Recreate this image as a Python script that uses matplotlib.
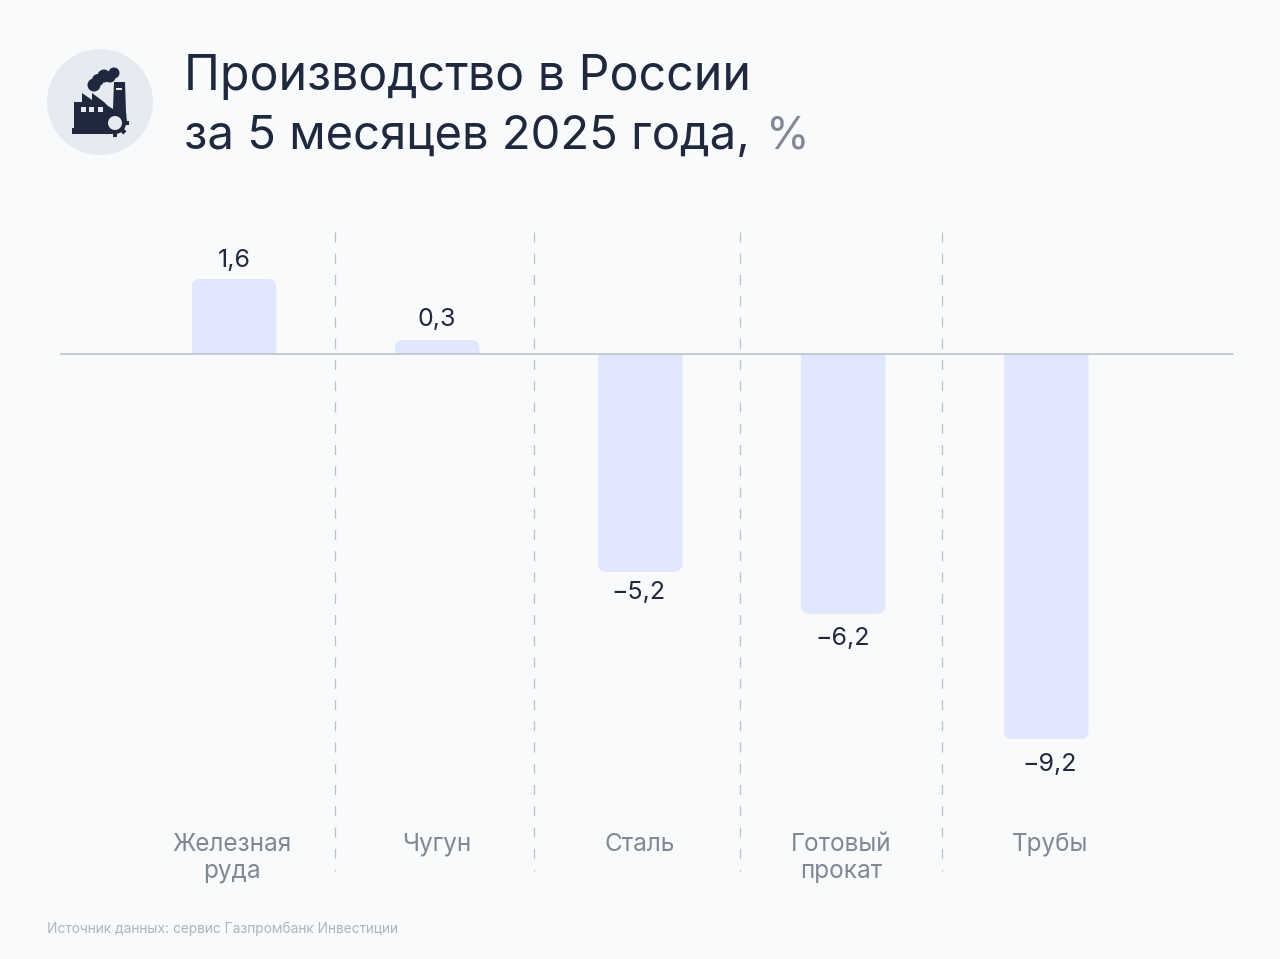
import matplotlib
matplotlib.use("Agg")
import matplotlib.pyplot as plt
import numpy as np
from matplotlib.patches import FancyBboxPatch, Circle, Polygon, Rectangle
from matplotlib.transforms import IdentityTransform, ScaledTranslation

categories = ["Железная\nруда", "Чугун", "Сталь", "Готовый\nпрокат", "Трубы"]
values = [1.6, 0.3, -5.2, -6.2, -9.2]
value_labels = ["1,6", "0,3", "−5,2", "−6,2", "−9,2"]
divider_positions = [0.4975, 1.478, 2.493, 3.488]

BG = "#f8fafc"; DARK = "#20283e"; GREY = "#7f8894"; BAR = "#e1e7fd"; LINE = "#b9bec8"; DISC = "#e6ebf2"
plt.rcParams["font.family"] = ["Inter", "DejaVu Sans"]

W, H = 1280, 959
fig = plt.figure(figsize=(12.8, 9.59), dpi=100, facecolor=BG)
ax = fig.add_axes([0, (H - 830) / H, 1, 600 / H], facecolor="none")

# the positive side is drawn slightly stretched, as in the reference
ax.set_yscale("function", functions=(
    lambda v: np.where(np.asarray(v) >= 0, np.asarray(v) * 1.12, np.asarray(v)),
    lambda v: np.where(np.asarray(v) >= 0, np.asarray(v) / 1.12, np.asarray(v))))
ax.set_xlim(-234 / 203, (1280 - 234) / 203)
ax.set_ylim(-11.36, 2.64)
for s in ax.spines.values():
    s.set_visible(False)
ax.set_yticks([])
ax.set_xticks(range(len(categories)))
ax.set_xticklabels(categories, fontsize=17.5, color=GREY, linespacing=1.22)
ax.tick_params(axis="x", length=0, pad=2)
for lab, dx in zip(ax.get_xticklabels(), [-2, 0, 0, -2, 4]):
    lab.set_transform(lab.get_transform() + ScaledTranslation(dx / 100, 0, fig.dpi_scale_trans))

xs = np.arange(len(values))
bars = ax.bar(xs, values, width=85 / 203, color="none", linewidth=0)
fig.canvas.draw()
for rect, v in zip(bars, values):
    bb = rect.get_window_extent()
    x0, x1, y0, y1 = bb.x0, bb.x1, bb.y0, bb.y1
    pad = 12
    if v >= 0:
        y0 -= pad
    else:
        y1 += pad
    r = 9
    p = FancyBboxPatch((x0 + r, y0 + r), x1 - x0 - 2 * r, y1 - y0 - 2 * r,
                       boxstyle=f"round,pad={r},rounding_size={r}",
                       transform=IdentityTransform(), fc=BAR, ec="none", zorder=1)
    ax.add_patch(p)
    p.set_clip_box(bb)

ax.axhline(0, xmin=61 / W, xmax=1233 / W, color=LINE, lw=1.1, zorder=3)
trans = ax.get_xaxis_transform()
for d in divider_positions:
    ax.plot([d, d], [1.0 - 2 / 600, -41 / 600], transform=trans, clip_on=False,
            color="#bcc0c7", lw=0.9, linestyle=(0, (8, 9)), zorder=2)

for x, v, s, dx, off in zip(xs, values, value_labels, [0, 0, -1, 0, 4], [18, 20, -21, -25, -25]):
    ax.annotate(s, (x, v), xytext=(dx * 0.72, off * 0.72), textcoords="offset points",
                ha="center", va="center", fontsize=18, color=DARK, zorder=4)

# overlay in pixel coordinates for the header icon
ov = fig.add_axes([0, 0, 1, 1], facecolor="none")
ov.set_xlim(0, W); ov.set_ylim(H, 0); ov.axis("off")
ov.add_patch(Circle((100, 102), 53, fc=DISC, ec="none"))
ov.add_patch(Polygon([(72, 134), (72, 128), (74, 128), (74, 102), (82, 102), (82, 93), (92, 100),
                      (92, 93), (104, 102), (108, 106), (113, 109), (114, 82), (125, 82),
                      (126, 112), (127, 122), (112, 134)], closed=True, fc=DARK, ec="none"))
for bx in (81, 89, 98):
    ov.add_patch(Rectangle((bx, 107), 4.5, 4.5, fc=DISC, ec="none"))
ov.add_patch(Rectangle((116, 87.5), 6, 2, fc=DISC, ec="none"))
for cx, cy, cr in [(94, 85, 6.5), (98, 80, 6), (104, 76, 6.5), (110, 77, 5.5), (114, 73, 5.5)]:
    ov.add_patch(Circle((cx, cy), cr, fc=DARK, ec="none"))
gc = (115, 123)
ov.add_patch(Circle(gc, 11, fc=DARK, ec="none"))
for a in np.deg2rad(np.arange(0, 360, 45)):
    c, s = np.cos(a), np.sin(a)
    corners = [(10, -2.2), (14, -2.2), (14, 2.2), (10, 2.2)]
    ov.add_patch(Polygon([(gc[0] + u * c - w * s, gc[1] + u * s + w * c) for u, w in corners],
                         closed=True, fc=DARK, ec="none"))
ov.add_patch(Circle(gc, 7, fc=DISC, ec="none"))

fig.text(184 / W, 1 - 77 / H, "Производство в России", fontsize=34.8, color=DARK,
         ha="left", va="center")
t2 = fig.text(184 / W, 1 - 137 / H, "за 5 месяцев 2025 года,", fontsize=34.0, color=DARK,
              ha="left", va="center")
fig.canvas.draw()
fig.text(766 / W, 1 - 137 / H, "%", fontsize=32, color=GREY, ha="left", va="center")
fig.text(47 / W, 1 - 929 / H, "Источник данных: сервис Газпромбанк Инвестиции", fontsize=9.92,
         color="#b0b5bd", ha="left", va="center")

fig.savefig("out.png", dpi=100, facecolor=BG)
